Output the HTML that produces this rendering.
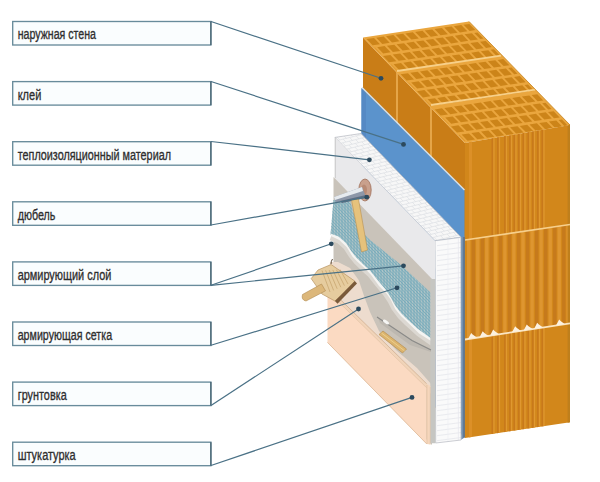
<!DOCTYPE html>
<html><head><meta charset="utf-8"><style>
html,body{margin:0;padding:0;background:#fff;}
svg{display:block;}
</style></head><body>
<svg width="600" height="482" viewBox="0 0 600 482">
<defs>
<clipPath id="cTop"><polygon points="363,37.5 469,21.5 570,125 465,143"/></clipPath>
<clipPath id="cFront"><polygon points="465,143 570,125 570,422.3 465,438"/></clipPath>
<clipPath id="cMesh"><polygon points="333.5,200.0 350.0,201.0 358.0,228.0 370.0,240.0 401.0,265.0 432.0,294.0 432.0,340.0 418.0,330.0 407.0,320.0 400.0,313.0 394.0,305.0 390.0,297.3 385.0,289.8 377.5,281.0 370.0,271.5 364.4,266.5 356.0,258.2 351.0,252.0 345.7,243.7 338.5,237.4 330.5,234.5"/></clipPath>
<clipPath id="cInsT"><polygon points="335,137.4 361,133.5 460.8,237 435,240.7"/></clipPath>
<clipPath id="cInsF"><polygon points="435,240.7 461.2,237 461.2,439.8 435.7,443"/></clipPath>
</defs>
<polygon points="363.0,37.5 465.0,143.0 465.0,438.0 363.0,333.0" fill="#c97d17"/>
<line x1="397" y1="71" x2="397" y2="124" stroke="#eeb35a" stroke-width="1.5"/>
<line x1="431" y1="105" x2="431" y2="159" stroke="#eeb35a" stroke-width="1.5"/>
<polygon points="363.0,37.5 469.0,21.5 570.0,125.0 465.0,143.0" fill="#eaa63e"/>
<g clip-path="url(#cTop)" fill="#cc8419"><polygon points="366.6,39.1 374.0,38.0 380.0,44.2 372.6,45.3"/><polygon points="376.3,37.7 383.7,36.6 389.7,42.8 382.3,43.9"/><polygon points="386.0,36.2 393.4,35.1 399.4,41.3 392.0,42.4"/><polygon points="395.7,34.8 403.1,33.7 409.1,39.9 401.7,41.0"/><polygon points="405.4,33.4 412.8,32.3 418.8,38.5 411.4,39.6"/><polygon points="415.1,31.9 422.5,30.8 428.5,37.0 421.1,38.1"/><polygon points="424.8,30.5 432.2,29.4 438.2,35.6 430.8,36.7"/><polygon points="434.5,29.0 441.9,28.0 447.9,34.2 440.5,35.2"/><polygon points="444.2,27.6 451.6,26.5 457.6,32.7 450.2,33.8"/><polygon points="453.9,26.2 461.3,25.1 467.3,31.3 459.9,32.4"/><polygon points="463.6,24.7 469.3,23.9 475.3,30.1 469.6,30.9"/><polygon points="374.5,47.6 374.9,47.6 380.9,53.8 380.5,53.8"/><polygon points="377.2,47.2 384.6,46.1 390.6,52.3 383.2,53.4"/><polygon points="386.9,45.8 394.3,44.7 400.3,50.9 392.9,52.0"/><polygon points="396.6,44.3 404.0,43.2 410.0,49.5 402.6,50.5"/><polygon points="406.3,42.9 413.7,41.8 419.7,48.0 412.3,49.1"/><polygon points="416.0,41.5 423.4,40.4 429.4,46.6 422.0,47.7"/><polygon points="425.7,40.0 433.1,38.9 439.1,45.1 431.7,46.2"/><polygon points="435.4,38.6 442.8,37.5 448.8,43.7 441.4,44.8"/><polygon points="445.1,37.2 452.5,36.1 458.5,42.3 451.1,43.4"/><polygon points="454.8,35.7 462.2,34.6 468.2,40.8 460.8,41.9"/><polygon points="464.5,34.3 471.9,33.2 477.9,39.4 470.5,40.5"/><polygon points="474.2,32.9 477.5,32.4 483.5,38.6 480.2,39.1"/><polygon points="383.0,56.1 390.4,55.0 396.4,61.2 389.0,62.3"/><polygon points="392.7,54.6 400.1,53.5 406.1,59.7 398.7,60.8"/><polygon points="402.4,53.2 409.8,52.1 415.8,58.3 408.4,59.4"/><polygon points="412.1,51.7 419.5,50.7 425.5,56.9 418.1,57.9"/><polygon points="421.8,50.3 429.2,49.2 435.2,55.4 427.8,56.5"/><polygon points="431.5,48.9 438.9,47.8 444.9,54.0 437.5,55.1"/><polygon points="441.2,47.4 448.6,46.3 454.6,52.5 447.2,53.6"/><polygon points="450.9,46.0 458.3,44.9 464.3,51.1 456.9,52.2"/><polygon points="460.6,44.6 468.0,43.5 474.0,49.7 466.6,50.8"/><polygon points="470.3,43.1 477.7,42.0 483.7,48.2 476.3,49.3"/><polygon points="480.0,41.7 485.7,40.9 491.7,47.1 486.0,47.9"/><polygon points="390.9,64.6 391.3,64.5 397.3,70.7 396.9,70.8"/><polygon points="393.6,64.2 401.0,63.1 407.0,69.3 399.6,70.4"/><polygon points="403.3,62.7 410.7,61.6 416.7,67.8 409.3,68.9"/><polygon points="413.0,61.3 420.4,60.2 426.4,66.4 419.0,67.5"/><polygon points="422.7,59.9 430.1,58.8 436.1,65.0 428.7,66.1"/><polygon points="432.4,58.4 439.8,57.3 445.8,63.5 438.4,64.6"/><polygon points="442.1,57.0 449.5,55.9 455.5,62.1 448.1,63.2"/><polygon points="451.8,55.6 459.2,54.5 465.2,60.7 457.8,61.8"/><polygon points="461.5,54.1 468.9,53.0 474.9,59.2 467.5,60.3"/><polygon points="471.2,52.7 478.6,51.6 484.6,57.8 477.2,58.9"/><polygon points="480.9,51.3 488.3,50.2 494.3,56.4 486.9,57.5"/><polygon points="490.6,49.8 493.9,49.3 499.9,55.5 496.6,56.0"/><polygon points="400.6,74.3 408.0,73.2 414.0,79.4 406.6,80.5"/><polygon points="410.3,72.8 417.7,71.7 423.7,77.9 416.3,79.0"/><polygon points="420.0,71.4 427.4,70.3 433.4,76.5 426.0,77.6"/><polygon points="429.7,69.9 437.1,68.8 443.1,75.1 435.7,76.1"/><polygon points="439.4,68.5 446.8,67.4 452.8,73.6 445.4,74.7"/><polygon points="449.1,67.1 456.5,66.0 462.5,72.2 455.1,73.3"/><polygon points="458.8,65.6 466.2,64.5 472.2,70.7 464.8,71.8"/><polygon points="468.5,64.2 475.9,63.1 481.9,69.3 474.5,70.4"/><polygon points="478.2,62.8 485.6,61.7 491.6,67.9 484.2,69.0"/><polygon points="487.9,61.3 495.3,60.2 501.3,66.4 493.9,67.5"/><polygon points="497.6,59.9 503.3,59.1 509.3,65.3 503.6,66.1"/><polygon points="408.5,82.8 408.9,82.7 414.9,88.9 414.5,89.0"/><polygon points="411.2,82.4 418.6,81.3 424.6,87.5 417.2,88.6"/><polygon points="420.9,80.9 428.3,79.8 434.3,86.0 426.9,87.1"/><polygon points="430.6,79.5 438.0,78.4 444.0,84.6 436.6,85.7"/><polygon points="440.3,78.1 447.7,77.0 453.7,83.2 446.3,84.3"/><polygon points="450.0,76.6 457.4,75.5 463.4,81.7 456.0,82.8"/><polygon points="459.7,75.2 467.1,74.1 473.1,80.3 465.7,81.4"/><polygon points="469.4,73.8 476.8,72.7 482.8,78.9 475.4,80.0"/><polygon points="479.1,72.3 486.5,71.2 492.5,77.4 485.1,78.5"/><polygon points="488.8,70.9 496.2,69.8 502.2,76.0 494.8,77.1"/><polygon points="498.5,69.5 505.9,68.4 511.9,74.6 504.5,75.7"/><polygon points="508.2,68.0 511.5,67.5 517.5,73.7 514.2,74.2"/><polygon points="417.0,91.2 424.4,90.1 430.4,96.3 423.0,97.4"/><polygon points="426.7,89.8 434.1,88.7 440.1,94.9 432.7,96.0"/><polygon points="436.4,88.3 443.8,87.2 449.8,93.4 442.4,94.5"/><polygon points="446.1,86.9 453.5,85.8 459.5,92.0 452.1,93.1"/><polygon points="455.8,85.5 463.2,84.4 469.2,90.6 461.8,91.7"/><polygon points="465.5,84.0 472.9,82.9 478.9,89.1 471.5,90.2"/><polygon points="475.2,82.6 482.6,81.5 488.6,87.7 481.2,88.8"/><polygon points="484.9,81.2 492.3,80.1 498.3,86.3 490.9,87.4"/><polygon points="494.6,79.7 502.0,78.6 508.0,84.8 500.6,85.9"/><polygon points="504.3,78.3 511.7,77.2 517.7,83.4 510.3,84.5"/><polygon points="514.0,76.9 519.7,76.0 525.7,82.2 520.0,83.1"/><polygon points="424.9,99.7 425.3,99.7 431.3,105.9 430.9,105.9"/><polygon points="427.6,99.3 435.0,98.2 441.0,104.4 433.6,105.5"/><polygon points="437.3,97.9 444.7,96.8 450.7,103.0 443.3,104.1"/><polygon points="447.0,96.5 454.4,95.4 460.4,101.6 453.0,102.7"/><polygon points="456.7,95.0 464.1,93.9 470.1,100.1 462.7,101.2"/><polygon points="466.4,93.6 473.8,92.5 479.8,98.7 472.4,99.8"/><polygon points="476.1,92.2 483.5,91.1 489.5,97.3 482.1,98.4"/><polygon points="485.8,90.7 493.2,89.6 499.2,95.8 491.8,96.9"/><polygon points="495.5,89.3 502.9,88.2 508.9,94.4 501.5,95.5"/><polygon points="505.2,87.8 512.6,86.7 518.6,93.0 511.2,94.0"/><polygon points="514.9,86.4 522.3,85.3 528.3,91.5 520.9,92.6"/><polygon points="524.6,85.0 527.9,84.5 533.9,90.7 530.6,91.2"/><polygon points="434.6,109.4 442.0,108.3 448.0,114.5 440.6,115.6"/><polygon points="444.3,108.0 451.7,106.9 457.7,113.1 450.3,114.2"/><polygon points="454.0,106.5 461.4,105.4 467.4,111.6 460.0,112.7"/><polygon points="463.7,105.1 471.1,104.0 477.1,110.2 469.7,111.3"/><polygon points="473.4,103.7 480.8,102.6 486.8,108.8 479.4,109.9"/><polygon points="483.1,102.2 490.5,101.1 496.5,107.3 489.1,108.4"/><polygon points="492.8,100.8 500.2,99.7 506.2,105.9 498.8,107.0"/><polygon points="502.5,99.4 509.9,98.3 515.9,104.5 508.5,105.6"/><polygon points="512.2,97.9 519.6,96.8 525.6,103.0 518.2,104.1"/><polygon points="521.9,96.5 529.3,95.4 535.3,101.6 527.9,102.7"/><polygon points="531.6,95.1 537.3,94.2 543.3,100.4 537.6,101.3"/><polygon points="442.5,117.9 442.9,117.9 448.9,124.1 448.5,124.1"/><polygon points="445.2,117.5 452.6,116.4 458.6,122.6 451.2,123.7"/><polygon points="454.9,116.1 462.3,115.0 468.3,121.2 460.9,122.3"/><polygon points="464.6,114.7 472.0,113.6 478.0,119.8 470.6,120.9"/><polygon points="474.3,113.2 481.7,112.1 487.7,118.3 480.3,119.4"/><polygon points="484.0,111.8 491.4,110.7 497.4,116.9 490.0,118.0"/><polygon points="493.7,110.3 501.1,109.3 507.1,115.5 499.7,116.6"/><polygon points="503.4,108.9 510.8,107.8 516.8,114.0 509.4,115.1"/><polygon points="513.1,107.5 520.5,106.4 526.5,112.6 519.1,113.7"/><polygon points="522.8,106.0 530.2,104.9 536.2,111.2 528.8,112.2"/><polygon points="532.5,104.6 539.9,103.5 545.9,109.7 538.5,110.8"/><polygon points="542.2,103.2 545.5,102.7 551.5,108.9 548.2,109.4"/><polygon points="451.0,126.4 458.4,125.3 464.4,131.5 457.0,132.6"/><polygon points="460.7,124.9 468.1,123.8 474.1,130.0 466.7,131.1"/><polygon points="470.4,123.5 477.8,122.4 483.8,128.6 476.4,129.7"/><polygon points="480.1,122.1 487.5,121.0 493.5,127.2 486.1,128.3"/><polygon points="489.8,120.6 497.2,119.5 503.2,125.7 495.8,126.8"/><polygon points="499.5,119.2 506.9,118.1 512.9,124.3 505.5,125.4"/><polygon points="509.2,117.8 516.6,116.7 522.6,122.9 515.2,124.0"/><polygon points="518.9,116.3 526.3,115.2 532.3,121.4 524.9,122.5"/><polygon points="528.6,114.9 536.0,113.8 542.0,120.0 534.6,121.1"/><polygon points="538.3,113.4 545.7,112.3 551.7,118.6 544.3,119.6"/><polygon points="548.0,112.0 553.7,111.2 559.7,117.4 554.0,118.2"/><polygon points="458.9,134.9 459.3,134.8 465.3,141.0 464.9,141.1"/><polygon points="461.6,134.5 469.0,133.4 475.0,139.6 467.6,140.7"/><polygon points="471.3,133.0 478.7,132.0 484.7,138.2 477.3,139.3"/><polygon points="481.0,131.6 488.4,130.5 494.4,136.7 487.0,137.8"/><polygon points="490.7,130.2 498.1,129.1 504.1,135.3 496.7,136.4"/><polygon points="500.4,128.7 507.8,127.6 513.8,133.9 506.4,134.9"/><polygon points="510.1,127.3 517.5,126.2 523.5,132.4 516.1,133.5"/><polygon points="519.8,125.9 527.2,124.8 533.2,131.0 525.8,132.1"/><polygon points="529.5,124.4 536.9,123.3 542.9,129.5 535.5,130.6"/><polygon points="539.2,123.0 546.6,121.9 552.6,128.1 545.2,129.2"/><polygon points="548.9,121.6 556.3,120.5 562.3,126.7 554.9,127.8"/><polygon points="558.6,120.1 561.9,119.6 567.9,125.8 564.6,126.3"/></g>
<line x1="397" y1="71" x2="501" y2="55.6" stroke="#f7d08a" stroke-width="1.8"/>
<line x1="431" y1="105" x2="535" y2="89.6" stroke="#f7d08a" stroke-width="1.8"/>
<polygon points="465.0,143.0 570.0,125.0 570.0,422.3 465.0,438.0" fill="#d2871b"/>
<clipPath id="cB1"><polygon points="465,143 570,125 570,224.5 465,240"/></clipPath><clipPath id="cB2"><polygon points="465,240 570,224.5 570,323.4 465,339.5"/></clipPath><clipPath id="cB3"><polygon points="465,339.5 570,323.4 570,422.3 465,438"/></clipPath><g clip-path="url(#cB1)"><rect x="491.5" y="120" width="1.8" height="330" fill="#c8791b"/><rect x="493.3" y="120" width="1.3" height="330" fill="#e09830"/><rect x="497" y="120" width="1.8" height="330" fill="#c8791b"/><rect x="498.8" y="120" width="1.3" height="330" fill="#e09830"/><rect x="504" y="120" width="1.8" height="330" fill="#c8791b"/><rect x="505.8" y="120" width="1.3" height="330" fill="#e09830"/><rect x="509" y="120" width="1.8" height="330" fill="#c8791b"/><rect x="510.8" y="120" width="1.3" height="330" fill="#e09830"/><rect x="513.5" y="120" width="1.8" height="330" fill="#c8791b"/><rect x="515.3" y="120" width="1.3" height="330" fill="#e09830"/><rect x="518" y="120" width="1.8" height="330" fill="#c8791b"/><rect x="519.8" y="120" width="1.3" height="330" fill="#e09830"/><rect x="522.5" y="120" width="1.8" height="330" fill="#c8791b"/><rect x="524.3" y="120" width="1.3" height="330" fill="#e09830"/><rect x="527.5" y="120" width="1.8" height="330" fill="#c8791b"/><rect x="529.3" y="120" width="1.3" height="330" fill="#e09830"/><rect x="532" y="120" width="1.8" height="330" fill="#c8791b"/><rect x="533.8" y="120" width="1.3" height="330" fill="#e09830"/><rect x="537" y="120" width="1.8" height="330" fill="#c8791b"/><rect x="538.8" y="120" width="1.3" height="330" fill="#e09830"/><rect x="541.5" y="120" width="1.8" height="330" fill="#c8791b"/><rect x="543.3" y="120" width="1.3" height="330" fill="#e09830"/><rect x="469" y="120" width="3" height="330" fill="#dc9028"/></g><g clip-path="url(#cB3)"><rect x="491.5" y="120" width="1.8" height="330" fill="#c8791b"/><rect x="493.3" y="120" width="1.3" height="330" fill="#e09830"/><rect x="497" y="120" width="1.8" height="330" fill="#c8791b"/><rect x="498.8" y="120" width="1.3" height="330" fill="#e09830"/><rect x="504" y="120" width="1.8" height="330" fill="#c8791b"/><rect x="505.8" y="120" width="1.3" height="330" fill="#e09830"/><rect x="509" y="120" width="1.8" height="330" fill="#c8791b"/><rect x="510.8" y="120" width="1.3" height="330" fill="#e09830"/><rect x="513.5" y="120" width="1.8" height="330" fill="#c8791b"/><rect x="515.3" y="120" width="1.3" height="330" fill="#e09830"/><rect x="518" y="120" width="1.8" height="330" fill="#c8791b"/><rect x="519.8" y="120" width="1.3" height="330" fill="#e09830"/><rect x="522.5" y="120" width="1.8" height="330" fill="#c8791b"/><rect x="524.3" y="120" width="1.3" height="330" fill="#e09830"/><rect x="527.5" y="120" width="1.8" height="330" fill="#c8791b"/><rect x="529.3" y="120" width="1.3" height="330" fill="#e09830"/><rect x="532" y="120" width="1.8" height="330" fill="#c8791b"/><rect x="533.8" y="120" width="1.3" height="330" fill="#e09830"/><rect x="537" y="120" width="1.8" height="330" fill="#c8791b"/><rect x="538.8" y="120" width="1.3" height="330" fill="#e09830"/><rect x="541.5" y="120" width="1.8" height="330" fill="#c8791b"/><rect x="543.3" y="120" width="1.3" height="330" fill="#e09830"/><rect x="469" y="120" width="3" height="330" fill="#dc9028"/></g><g clip-path="url(#cB2)"><rect x="467.0" y="220" width="3.4" height="125" fill="#de9630"/><rect x="471.6" y="220" width="3.4" height="125" fill="#c67a1c"/><rect x="476.1" y="220" width="3.4" height="125" fill="#de9630"/><rect x="480.7" y="220" width="3.4" height="125" fill="#c67a1c"/><rect x="485.1" y="220" width="3.4" height="125" fill="#de9630"/><rect x="489.7" y="220" width="3.4" height="125" fill="#c67a1c"/><rect x="494.1" y="220" width="3.4" height="125" fill="#de9630"/><rect x="498.8" y="220" width="3.4" height="125" fill="#c67a1c"/><rect x="503.2" y="220" width="3.4" height="125" fill="#de9630"/><rect x="507.8" y="220" width="3.4" height="125" fill="#c67a1c"/><rect x="512.2" y="220" width="3.4" height="125" fill="#de9630"/><rect x="516.9" y="220" width="3.4" height="125" fill="#c67a1c"/><rect x="521.3" y="220" width="3.4" height="125" fill="#de9630"/><rect x="525.9" y="220" width="3.4" height="125" fill="#c67a1c"/><rect x="530.4" y="220" width="3.4" height="125" fill="#de9630"/><rect x="535.0" y="220" width="3.4" height="125" fill="#c67a1c"/><rect x="539.4" y="220" width="3.4" height="125" fill="#de9630"/><rect x="544.0" y="220" width="3.4" height="125" fill="#c67a1c"/><rect x="548.5" y="220" width="3.4" height="125" fill="#de9630"/><rect x="553.1" y="220" width="3.4" height="125" fill="#c67a1c"/><rect x="557.5" y="220" width="3.4" height="125" fill="#de9630"/><rect x="562.1" y="220" width="3.4" height="125" fill="#c67a1c"/><rect x="566.5" y="220" width="3.4" height="125" fill="#de9630"/><rect x="571.1" y="220" width="3.4" height="125" fill="#c67a1c"/></g>
<polygon points="567.6,125.4 570,125 570,422.3 567.6,422.7" fill="#bf7f1c"/>
<line x1="469" y1="21.5" x2="570" y2="125" stroke="#c98a2a" stroke-width="0.9"/>
<line x1="465" y1="240" x2="570" y2="224.5" stroke="#f6cf8c" stroke-width="1.6"/>
<line x1="465" y1="339.5" x2="570" y2="323.4" stroke="#fbe6c2" stroke-width="1.8"/>
<polygon points="468.0,339.0 471.2,332.9 472.6,334.4 477.0,337.6" fill="#fcf1e0"/>
<polygon points="479.5,337.3 482.7,331.2 484.1,332.7 488.5,335.9" fill="#fcf1e0"/>
<polygon points="490.0,335.7 493.2,329.6 494.6,331.1 499.0,334.3" fill="#fcf1e0"/>
<polygon points="512.0,332.3 515.2,326.2 516.6,327.7 521.0,330.9" fill="#fcf1e0"/>
<polygon points="523.6,330.5 526.8,324.4 528.2,325.9 532.6,329.1" fill="#fcf1e0"/>
<polygon points="534.0,328.9 537.2,322.8 538.6,324.3 543.0,327.5" fill="#fcf1e0"/>
<polygon points="556.0,325.6 559.2,319.5 560.6,321.0 565.0,324.2" fill="#fcf1e0"/>
<polygon points="361.5,88.0 464.5,190.5 464.5,437.0 361.5,331.0" fill="#5b93cc"/>
<polygon points="361.5,88.0 366.0,92.6 366.0,340.0 361.5,336.0" fill="#5589c4"/>
<line x1="362" y1="87.5" x2="464.5" y2="190" stroke="#d3e2ef" stroke-width="1.4"/>
<polygon points="335.0,137.4 361.0,133.5 460.8,237.0 435.0,240.7" fill="#f7f7f7"/>
<polygon points="435.0,240.7 461.2,237.0 461.2,439.8 435.7,443.0" fill="#fafafa"/>
<polygon points="461.2,237.0 464.6,236.6 464.6,437.5 461.2,439.8" fill="#7290b0"/>
<line x1="464" y1="237" x2="464" y2="437.5" stroke="#4c5e72" stroke-width="0.9"/>
<g clip-path="url(#cInsT)" stroke="#d9dce1" stroke-width="0.6" fill="none"><line x1="335.0" y1="137.4" x2="361.0" y2="131.0"/><line x1="336.9" y1="136.9" x2="339.8" y2="139.9"/><line x1="343.4" y1="135.3" x2="346.3" y2="138.3"/><line x1="349.9" y1="133.7" x2="352.8" y2="136.7"/><line x1="356.4" y1="132.1" x2="359.3" y2="135.1"/><line x1="337.9" y1="140.4" x2="363.9" y2="134.0"/><line x1="343.1" y1="139.1" x2="346.0" y2="142.1"/><line x1="349.6" y1="137.5" x2="352.5" y2="140.5"/><line x1="356.1" y1="135.9" x2="359.0" y2="138.9"/><line x1="362.6" y1="134.3" x2="365.5" y2="137.3"/><line x1="340.7" y1="143.3" x2="366.7" y2="136.9"/><line x1="342.7" y1="142.8" x2="345.6" y2="145.8"/><line x1="349.2" y1="141.2" x2="352.1" y2="144.2"/><line x1="355.7" y1="139.6" x2="358.6" y2="142.6"/><line x1="362.2" y1="138.0" x2="365.1" y2="141.0"/><line x1="343.6" y1="146.3" x2="369.6" y2="139.9"/><line x1="348.8" y1="145.0" x2="351.7" y2="148.0"/><line x1="355.3" y1="143.4" x2="358.2" y2="146.4"/><line x1="361.8" y1="141.8" x2="364.7" y2="144.8"/><line x1="368.3" y1="140.2" x2="371.2" y2="143.2"/><line x1="346.4" y1="149.2" x2="372.4" y2="142.8"/><line x1="348.4" y1="148.7" x2="351.3" y2="151.7"/><line x1="354.9" y1="147.1" x2="357.8" y2="150.1"/><line x1="361.4" y1="145.5" x2="364.3" y2="148.5"/><line x1="367.9" y1="143.9" x2="370.8" y2="146.9"/><line x1="349.3" y1="152.2" x2="375.3" y2="145.8"/><line x1="354.5" y1="150.9" x2="357.4" y2="153.9"/><line x1="361.0" y1="149.3" x2="363.9" y2="152.3"/><line x1="367.5" y1="147.7" x2="370.4" y2="150.7"/><line x1="374.0" y1="146.1" x2="376.9" y2="149.1"/><line x1="352.1" y1="155.1" x2="378.1" y2="148.7"/><line x1="354.1" y1="154.6" x2="357.0" y2="157.6"/><line x1="360.6" y1="153.0" x2="363.5" y2="156.0"/><line x1="367.1" y1="151.4" x2="370.0" y2="154.4"/><line x1="373.6" y1="149.8" x2="376.5" y2="152.8"/><line x1="355.0" y1="158.1" x2="381.0" y2="151.7"/><line x1="360.2" y1="156.8" x2="363.1" y2="159.8"/><line x1="366.7" y1="155.2" x2="369.6" y2="158.2"/><line x1="373.2" y1="153.6" x2="376.1" y2="156.6"/><line x1="379.7" y1="152.0" x2="382.6" y2="155.0"/><line x1="357.9" y1="161.0" x2="383.9" y2="154.6"/><line x1="359.8" y1="160.5" x2="362.7" y2="163.5"/><line x1="366.3" y1="158.9" x2="369.2" y2="161.9"/><line x1="372.8" y1="157.3" x2="375.7" y2="160.3"/><line x1="379.3" y1="155.7" x2="382.2" y2="158.7"/><line x1="360.7" y1="164.0" x2="386.7" y2="157.6"/><line x1="365.9" y1="162.7" x2="368.8" y2="165.7"/><line x1="372.4" y1="161.1" x2="375.3" y2="164.1"/><line x1="378.9" y1="159.5" x2="381.8" y2="162.5"/><line x1="385.4" y1="157.9" x2="388.3" y2="160.9"/><line x1="363.6" y1="166.9" x2="389.6" y2="160.5"/><line x1="365.5" y1="166.4" x2="368.4" y2="169.4"/><line x1="372.0" y1="164.8" x2="374.9" y2="167.8"/><line x1="378.5" y1="163.2" x2="381.4" y2="166.2"/><line x1="385.0" y1="161.6" x2="387.9" y2="164.6"/><line x1="366.4" y1="169.9" x2="392.4" y2="163.5"/><line x1="371.6" y1="168.6" x2="374.5" y2="171.6"/><line x1="378.1" y1="167.0" x2="381.0" y2="170.0"/><line x1="384.6" y1="165.4" x2="387.5" y2="168.4"/><line x1="391.1" y1="163.8" x2="394.0" y2="166.8"/><line x1="369.3" y1="172.8" x2="395.3" y2="166.4"/><line x1="371.2" y1="172.3" x2="374.1" y2="175.3"/><line x1="377.7" y1="170.7" x2="380.6" y2="173.7"/><line x1="384.2" y1="169.1" x2="387.1" y2="172.1"/><line x1="390.7" y1="167.5" x2="393.6" y2="170.5"/><line x1="372.1" y1="175.8" x2="398.1" y2="169.4"/><line x1="377.3" y1="174.5" x2="380.2" y2="177.5"/><line x1="383.8" y1="172.9" x2="386.7" y2="175.9"/><line x1="390.3" y1="171.3" x2="393.2" y2="174.3"/><line x1="396.8" y1="169.7" x2="399.7" y2="172.7"/><line x1="375.0" y1="178.7" x2="401.0" y2="172.3"/><line x1="376.9" y1="178.2" x2="379.8" y2="181.2"/><line x1="383.4" y1="176.6" x2="386.3" y2="179.6"/><line x1="389.9" y1="175.0" x2="392.8" y2="178.0"/><line x1="396.4" y1="173.4" x2="399.3" y2="176.4"/><line x1="377.9" y1="181.7" x2="403.9" y2="175.3"/><line x1="383.1" y1="180.4" x2="386.0" y2="183.4"/><line x1="389.6" y1="178.8" x2="392.5" y2="181.8"/><line x1="396.1" y1="177.2" x2="399.0" y2="180.2"/><line x1="402.6" y1="175.6" x2="405.5" y2="178.6"/><line x1="380.7" y1="184.6" x2="406.7" y2="178.2"/><line x1="382.7" y1="184.1" x2="385.6" y2="187.1"/><line x1="389.2" y1="182.5" x2="392.1" y2="185.5"/><line x1="395.7" y1="180.9" x2="398.6" y2="183.9"/><line x1="402.2" y1="179.3" x2="405.1" y2="182.3"/><line x1="383.6" y1="187.6" x2="409.6" y2="181.2"/><line x1="388.8" y1="186.3" x2="391.7" y2="189.3"/><line x1="395.3" y1="184.7" x2="398.2" y2="187.7"/><line x1="401.8" y1="183.1" x2="404.7" y2="186.1"/><line x1="408.3" y1="181.5" x2="411.2" y2="184.5"/><line x1="386.4" y1="190.5" x2="412.4" y2="184.1"/><line x1="388.4" y1="190.0" x2="391.3" y2="193.0"/><line x1="394.9" y1="188.4" x2="397.8" y2="191.4"/><line x1="401.4" y1="186.8" x2="404.3" y2="189.8"/><line x1="407.9" y1="185.2" x2="410.8" y2="188.2"/><line x1="389.3" y1="193.5" x2="415.3" y2="187.1"/><line x1="394.5" y1="192.2" x2="397.4" y2="195.2"/><line x1="401.0" y1="190.6" x2="403.9" y2="193.6"/><line x1="407.5" y1="189.0" x2="410.4" y2="192.0"/><line x1="414.0" y1="187.4" x2="416.9" y2="190.4"/><line x1="392.1" y1="196.4" x2="418.1" y2="190.0"/><line x1="394.1" y1="195.9" x2="397.0" y2="198.9"/><line x1="400.6" y1="194.3" x2="403.5" y2="197.3"/><line x1="407.1" y1="192.7" x2="410.0" y2="195.7"/><line x1="413.6" y1="191.1" x2="416.5" y2="194.1"/><line x1="395.0" y1="199.4" x2="421.0" y2="193.0"/><line x1="400.2" y1="198.1" x2="403.1" y2="201.1"/><line x1="406.7" y1="196.5" x2="409.6" y2="199.5"/><line x1="413.2" y1="194.9" x2="416.1" y2="197.9"/><line x1="419.7" y1="193.3" x2="422.6" y2="196.3"/><line x1="397.9" y1="202.3" x2="423.9" y2="195.9"/><line x1="399.8" y1="201.9" x2="402.7" y2="204.9"/><line x1="406.3" y1="200.3" x2="409.2" y2="203.3"/><line x1="412.8" y1="198.7" x2="415.7" y2="201.7"/><line x1="419.3" y1="197.1" x2="422.2" y2="200.1"/><line x1="400.7" y1="205.3" x2="426.7" y2="198.9"/><line x1="405.9" y1="204.0" x2="408.8" y2="207.0"/><line x1="412.4" y1="202.4" x2="415.3" y2="205.4"/><line x1="418.9" y1="200.8" x2="421.8" y2="203.8"/><line x1="425.4" y1="199.2" x2="428.3" y2="202.2"/><line x1="403.6" y1="208.2" x2="429.6" y2="201.8"/><line x1="405.5" y1="207.8" x2="408.4" y2="210.8"/><line x1="412.0" y1="206.2" x2="414.9" y2="209.2"/><line x1="418.5" y1="204.6" x2="421.4" y2="207.6"/><line x1="425.0" y1="203.0" x2="427.9" y2="206.0"/><line x1="406.4" y1="211.2" x2="432.4" y2="204.8"/><line x1="411.6" y1="209.9" x2="414.5" y2="212.9"/><line x1="418.1" y1="208.3" x2="421.0" y2="211.3"/><line x1="424.6" y1="206.7" x2="427.5" y2="209.7"/><line x1="431.1" y1="205.1" x2="434.0" y2="208.1"/><line x1="409.3" y1="214.1" x2="435.3" y2="207.7"/><line x1="411.2" y1="213.7" x2="414.1" y2="216.7"/><line x1="417.7" y1="212.1" x2="420.6" y2="215.1"/><line x1="424.2" y1="210.5" x2="427.1" y2="213.5"/><line x1="430.7" y1="208.9" x2="433.6" y2="211.9"/><line x1="412.1" y1="217.1" x2="438.1" y2="210.7"/><line x1="417.3" y1="215.8" x2="420.2" y2="218.8"/><line x1="423.8" y1="214.2" x2="426.7" y2="217.2"/><line x1="430.3" y1="212.6" x2="433.2" y2="215.6"/><line x1="436.8" y1="211.0" x2="439.7" y2="214.0"/><line x1="415.0" y1="220.0" x2="441.0" y2="213.6"/><line x1="416.9" y1="219.6" x2="419.8" y2="222.6"/><line x1="423.4" y1="218.0" x2="426.3" y2="221.0"/><line x1="429.9" y1="216.4" x2="432.8" y2="219.4"/><line x1="436.4" y1="214.8" x2="439.3" y2="217.8"/><line x1="417.9" y1="223.0" x2="443.9" y2="216.6"/><line x1="423.1" y1="221.7" x2="426.0" y2="224.7"/><line x1="429.6" y1="220.1" x2="432.5" y2="223.1"/><line x1="436.1" y1="218.5" x2="439.0" y2="221.5"/><line x1="442.6" y1="216.9" x2="445.5" y2="219.9"/><line x1="420.7" y1="225.9" x2="446.7" y2="219.5"/><line x1="422.7" y1="225.5" x2="425.6" y2="228.5"/><line x1="429.2" y1="223.9" x2="432.1" y2="226.9"/><line x1="435.7" y1="222.3" x2="438.6" y2="225.3"/><line x1="442.2" y1="220.7" x2="445.1" y2="223.7"/><line x1="423.6" y1="228.9" x2="449.6" y2="222.5"/><line x1="428.8" y1="227.6" x2="431.7" y2="230.6"/><line x1="435.3" y1="226.0" x2="438.2" y2="229.0"/><line x1="441.8" y1="224.4" x2="444.7" y2="227.4"/><line x1="448.3" y1="222.8" x2="451.2" y2="225.8"/><line x1="426.4" y1="231.8" x2="452.4" y2="225.4"/><line x1="428.4" y1="231.4" x2="431.3" y2="234.4"/><line x1="434.9" y1="229.8" x2="437.8" y2="232.8"/><line x1="441.4" y1="228.2" x2="444.3" y2="231.2"/><line x1="447.9" y1="226.6" x2="450.8" y2="229.6"/><line x1="429.3" y1="234.8" x2="455.3" y2="228.4"/><line x1="434.5" y1="233.5" x2="437.4" y2="236.5"/><line x1="441.0" y1="231.9" x2="443.9" y2="234.9"/><line x1="447.5" y1="230.3" x2="450.4" y2="233.3"/><line x1="454.0" y1="228.7" x2="456.9" y2="231.7"/><line x1="432.1" y1="237.7" x2="458.1" y2="231.3"/><line x1="434.1" y1="237.3" x2="437.0" y2="240.3"/><line x1="440.6" y1="235.7" x2="443.5" y2="238.7"/><line x1="447.1" y1="234.1" x2="450.0" y2="237.1"/><line x1="453.6" y1="232.5" x2="456.5" y2="235.5"/><line x1="435.0" y1="240.7" x2="461.0" y2="234.3"/><line x1="440.2" y1="239.4" x2="443.1" y2="242.4"/><line x1="446.7" y1="237.8" x2="449.6" y2="240.8"/><line x1="453.2" y1="236.2" x2="456.1" y2="239.2"/><line x1="459.7" y1="234.6" x2="462.6" y2="237.6"/></g>
<g clip-path="url(#cInsF)" stroke="#e2e4ea" stroke-width="0.7" fill="none"><line x1="437" y1="240.7" x2="461" y2="237.5"/><line x1="437" y1="245.7" x2="461" y2="242.5"/><line x1="437" y1="250.7" x2="461" y2="247.5"/><line x1="437" y1="255.7" x2="461" y2="252.5"/><line x1="437" y1="260.7" x2="461" y2="257.5"/><line x1="437" y1="265.7" x2="461" y2="262.5"/><line x1="437" y1="270.7" x2="461" y2="267.5"/><line x1="437" y1="275.7" x2="461" y2="272.5"/><line x1="437" y1="280.7" x2="461" y2="277.5"/><line x1="437" y1="285.7" x2="461" y2="282.5"/><line x1="437" y1="290.7" x2="461" y2="287.5"/><line x1="437" y1="295.7" x2="461" y2="292.5"/><line x1="437" y1="300.7" x2="461" y2="297.5"/><line x1="437" y1="305.7" x2="461" y2="302.5"/><line x1="437" y1="310.7" x2="461" y2="307.5"/><line x1="437" y1="315.7" x2="461" y2="312.5"/><line x1="437" y1="320.7" x2="461" y2="317.5"/><line x1="437" y1="325.7" x2="461" y2="322.5"/><line x1="437" y1="330.7" x2="461" y2="327.5"/><line x1="437" y1="335.7" x2="461" y2="332.5"/><line x1="437" y1="340.7" x2="461" y2="337.5"/><line x1="437" y1="345.7" x2="461" y2="342.5"/><line x1="437" y1="350.7" x2="461" y2="347.5"/><line x1="437" y1="355.7" x2="461" y2="352.5"/><line x1="437" y1="360.7" x2="461" y2="357.5"/><line x1="437" y1="365.7" x2="461" y2="362.5"/><line x1="437" y1="370.7" x2="461" y2="367.5"/><line x1="437" y1="375.7" x2="461" y2="372.5"/><line x1="437" y1="380.7" x2="461" y2="377.5"/><line x1="437" y1="385.7" x2="461" y2="382.5"/><line x1="437" y1="390.7" x2="461" y2="387.5"/><line x1="437" y1="395.7" x2="461" y2="392.5"/><line x1="437" y1="400.7" x2="461" y2="397.5"/><line x1="437" y1="405.7" x2="461" y2="402.5"/><line x1="437" y1="410.7" x2="461" y2="407.5"/><line x1="437" y1="415.7" x2="461" y2="412.5"/><line x1="437" y1="420.7" x2="461" y2="417.5"/><line x1="437" y1="425.7" x2="461" y2="422.5"/><line x1="437" y1="430.7" x2="461" y2="427.5"/><line x1="437" y1="435.7" x2="461" y2="432.5"/><line x1="437" y1="440.7" x2="461" y2="437.5"/><line x1="437" y1="445.7" x2="461" y2="442.5"/><line x1="448" y1="236" x2="448" y2="445" stroke="#eceef2"/><line x1="458.4" y1="236" x2="458.4" y2="445" stroke="#e6e8ee"/></g>
<polygon points="335.0,137.4 361.0,133.5 460.8,237.0 461.0,440.0 435.7,443.0 435.0,240.7" fill="none" stroke="#b4b8c0" stroke-width="0.7"/>
<line x1="435" y1="240.7" x2="460.6" y2="237.3" stroke="#b4b8c0" stroke-width="0.7"/>
<polygon points="335.0,137.4 435.0,240.7 435.0,443.0 335.0,340.0" fill="#e9e9eb"/>
<line x1="335.2" y1="137.4" x2="335.2" y2="178" stroke="#bdbdbd" stroke-width="0.8"/>
<polygon points="333.5,177.0 432.0,279.0 432.0,445.0 333.5,345.0" fill="#c9c3ba"/>
<g clip-path="url(#cMesh)"><rect x="325" y="185" width="115" height="160" fill="#adc4c7"/><g stroke="#6ca6b8" stroke-width="0.75"><line x1="330.0" y1="185" x2="330.0" y2="345"/><line x1="333.0" y1="185" x2="333.0" y2="345"/><line x1="336.0" y1="185" x2="336.0" y2="345"/><line x1="339.0" y1="185" x2="339.0" y2="345"/><line x1="342.0" y1="185" x2="342.0" y2="345"/><line x1="345.0" y1="185" x2="345.0" y2="345"/><line x1="348.0" y1="185" x2="348.0" y2="345"/><line x1="351.0" y1="185" x2="351.0" y2="345"/><line x1="354.0" y1="185" x2="354.0" y2="345"/><line x1="357.0" y1="185" x2="357.0" y2="345"/><line x1="360.0" y1="185" x2="360.0" y2="345"/><line x1="363.0" y1="185" x2="363.0" y2="345"/><line x1="366.0" y1="185" x2="366.0" y2="345"/><line x1="369.0" y1="185" x2="369.0" y2="345"/><line x1="372.0" y1="185" x2="372.0" y2="345"/><line x1="375.0" y1="185" x2="375.0" y2="345"/><line x1="378.0" y1="185" x2="378.0" y2="345"/><line x1="381.0" y1="185" x2="381.0" y2="345"/><line x1="384.0" y1="185" x2="384.0" y2="345"/><line x1="387.0" y1="185" x2="387.0" y2="345"/><line x1="390.0" y1="185" x2="390.0" y2="345"/><line x1="393.0" y1="185" x2="393.0" y2="345"/><line x1="396.0" y1="185" x2="396.0" y2="345"/><line x1="399.0" y1="185" x2="399.0" y2="345"/><line x1="402.0" y1="185" x2="402.0" y2="345"/><line x1="405.0" y1="185" x2="405.0" y2="345"/><line x1="408.0" y1="185" x2="408.0" y2="345"/><line x1="411.0" y1="185" x2="411.0" y2="345"/><line x1="414.0" y1="185" x2="414.0" y2="345"/><line x1="417.0" y1="185" x2="417.0" y2="345"/><line x1="420.0" y1="185" x2="420.0" y2="345"/><line x1="423.0" y1="185" x2="423.0" y2="345"/><line x1="426.0" y1="185" x2="426.0" y2="345"/><line x1="429.0" y1="185" x2="429.0" y2="345"/><line x1="432.0" y1="185" x2="432.0" y2="345"/><line x1="435.0" y1="185" x2="435.0" y2="345"/><line x1="438.0" y1="185" x2="438.0" y2="345"/><line x1="441.0" y1="185" x2="441.0" y2="345"/><line x1="444.0" y1="185" x2="444.0" y2="345"/><line x1="447.0" y1="185" x2="447.0" y2="345"/><line x1="325" y1="140.0" x2="440" y2="258.0"/><line x1="325" y1="143.2" x2="440" y2="261.2"/><line x1="325" y1="146.4" x2="440" y2="264.4"/><line x1="325" y1="149.6" x2="440" y2="267.6"/><line x1="325" y1="152.8" x2="440" y2="270.8"/><line x1="325" y1="156.0" x2="440" y2="274.0"/><line x1="325" y1="159.2" x2="440" y2="277.2"/><line x1="325" y1="162.4" x2="440" y2="280.4"/><line x1="325" y1="165.6" x2="440" y2="283.6"/><line x1="325" y1="168.8" x2="440" y2="286.8"/><line x1="325" y1="172.0" x2="440" y2="290.0"/><line x1="325" y1="175.2" x2="440" y2="293.2"/><line x1="325" y1="178.4" x2="440" y2="296.4"/><line x1="325" y1="181.6" x2="440" y2="299.6"/><line x1="325" y1="184.8" x2="440" y2="302.8"/><line x1="325" y1="188.0" x2="440" y2="306.0"/><line x1="325" y1="191.2" x2="440" y2="309.2"/><line x1="325" y1="194.4" x2="440" y2="312.4"/><line x1="325" y1="197.6" x2="440" y2="315.6"/><line x1="325" y1="200.8" x2="440" y2="318.8"/><line x1="325" y1="204.0" x2="440" y2="322.0"/><line x1="325" y1="207.2" x2="440" y2="325.2"/><line x1="325" y1="210.4" x2="440" y2="328.4"/><line x1="325" y1="213.6" x2="440" y2="331.6"/><line x1="325" y1="216.8" x2="440" y2="334.8"/><line x1="325" y1="220.0" x2="440" y2="338.0"/><line x1="325" y1="223.2" x2="440" y2="341.2"/><line x1="325" y1="226.4" x2="440" y2="344.4"/><line x1="325" y1="229.6" x2="440" y2="347.6"/><line x1="325" y1="232.8" x2="440" y2="350.8"/><line x1="325" y1="236.0" x2="440" y2="354.0"/><line x1="325" y1="239.2" x2="440" y2="357.2"/><line x1="325" y1="242.4" x2="440" y2="360.4"/><line x1="325" y1="245.6" x2="440" y2="363.6"/><line x1="325" y1="248.8" x2="440" y2="366.8"/><line x1="325" y1="252.0" x2="440" y2="370.0"/><line x1="325" y1="255.2" x2="440" y2="373.2"/><line x1="325" y1="258.4" x2="440" y2="376.4"/><line x1="325" y1="261.6" x2="440" y2="379.6"/><line x1="325" y1="264.8" x2="440" y2="382.8"/><line x1="325" y1="268.0" x2="440" y2="386.0"/><line x1="325" y1="271.2" x2="440" y2="389.2"/><line x1="325" y1="274.4" x2="440" y2="392.4"/><line x1="325" y1="277.6" x2="440" y2="395.6"/><line x1="325" y1="280.8" x2="440" y2="398.8"/><line x1="325" y1="284.0" x2="440" y2="402.0"/><line x1="325" y1="287.2" x2="440" y2="405.2"/><line x1="325" y1="290.4" x2="440" y2="408.4"/><line x1="325" y1="293.6" x2="440" y2="411.6"/><line x1="325" y1="296.8" x2="440" y2="414.8"/><line x1="325" y1="300.0" x2="440" y2="418.0"/><line x1="325" y1="303.2" x2="440" y2="421.2"/><line x1="325" y1="306.4" x2="440" y2="424.4"/><line x1="325" y1="309.6" x2="440" y2="427.6"/><line x1="325" y1="312.8" x2="440" y2="430.8"/><line x1="325" y1="316.0" x2="440" y2="434.0"/><line x1="325" y1="319.2" x2="440" y2="437.2"/><line x1="325" y1="322.4" x2="440" y2="440.4"/><line x1="325" y1="325.6" x2="440" y2="443.6"/><line x1="325" y1="328.8" x2="440" y2="446.8"/><line x1="325" y1="332.0" x2="440" y2="450.0"/><line x1="325" y1="335.2" x2="440" y2="453.2"/><line x1="325" y1="338.4" x2="440" y2="456.4"/><line x1="325" y1="341.6" x2="440" y2="459.6"/><line x1="325" y1="344.8" x2="440" y2="462.8"/><line x1="325" y1="348.0" x2="440" y2="466.0"/><line x1="325" y1="351.2" x2="440" y2="469.2"/><line x1="325" y1="354.4" x2="440" y2="472.4"/><line x1="325" y1="357.6" x2="440" y2="475.6"/><line x1="325" y1="360.8" x2="440" y2="478.8"/></g></g>
<polygon points="330.0,262.0 338.0,262.0 350.0,268.0 358.7,280.0 363.9,295.6 370.0,312.0 379.0,331.0 396.0,350.0 417.0,368.0 432.0,385.0 432.0,395.0 327.5,290.0" fill="#eddcce"/>
<polyline points="330.5,238.0 338.5,240.9 345.7,247.2 351.0,255.5 356.0,261.7 364.4,270.0 370.0,275.0 377.5,284.5 385.0,293.3 390.0,300.8 394.0,308.5 400.0,316.5 407.0,323.5 418.0,333.5 432.0,343.5" fill="none" stroke="#dcd8d2" stroke-width="5" stroke-linejoin="round"/>
<polygon points="330.5,233.5 338.5,236.4 345.7,242.7 351.0,251.0 356.0,257.2 364.4,265.5 370.0,270.5 377.5,280.0 385.0,288.8 390.0,296.3 394.0,304.0 400.0,312.0 407.0,319.0 418.0,329.0 432.0,339.0 432.6,342.0 419.1,333.5 407.8,322.5 400.9,316.0 395.2,309.0 390.6,299.3 385.9,292.8 379.0,286.0 371.1,275.0 365.0,268.5 356.9,261.2 352.4,256.5 346.8,247.2 339.2,239.9 330.9,236.0" fill="#f4f4f2"/>
<polygon points="430.3,279.0 435.4,279.0 435.4,443.3 430.3,443.3" fill="#c6c6c2"/>
<polygon points="327.5,287.0 426.7,383.8 426.7,443.9 327.5,342.4" fill="#fbdac2"/>
<polygon points="327.5,287.0 426.7,383.8 426.7,387.8 327.5,291.0" fill="#f1d4b9"/>
<polygon points="426.7,383.8 430.3,386.0 430.3,444.6 426.7,443.9" fill="#f5d6bc"/>
<line x1="327.5" y1="287" x2="426.7" y2="383.8" stroke="#c4a486" stroke-width="0.6"/>
<line x1="327.5" y1="291" x2="426.7" y2="387.8" stroke="#d8b898" stroke-width="0.5"/>
<line x1="327.5" y1="342.4" x2="426.7" y2="443.9" stroke="#dcb896" stroke-width="0.8"/>
<line x1="426.9" y1="385" x2="426.9" y2="444" stroke="#dcb896" stroke-width="0.6"/>
<line x1="430.2" y1="387" x2="430.2" y2="444.5" stroke="#d8bca0" stroke-width="0.5"/>
<polygon points="378,318 412,340 431,349 431,352 410,345 380,323" fill="#bdb8b0"/>
<polyline points="377,317 412,340.5 431,350" fill="none" stroke="#8a8a88" stroke-width="1.1"/>
<ellipse cx="386" cy="322" rx="3.5" ry="1.6" fill="#f6f6f4" transform="rotate(35 386 322)"/>
<polygon points="379,334.5 383,331 406.5,349 402.5,353" fill="#dcb46e" stroke="#b08848" stroke-width="0.6"/>
<line x1="381.5" y1="333" x2="404.5" y2="350.8" stroke="#ecd08c" stroke-width="1"/>
<ellipse cx="365" cy="190" rx="6.2" ry="11" fill="#c9a08c" stroke="#a0705a" stroke-width="0.8"/>
<ellipse cx="364" cy="190" rx="3" ry="5.5" fill="#b88a74"/>
<polygon points="334,197 362,187 366,197 336,203" fill="#8d97a8"/>
<polygon points="334,197 362,187 363,191 335,200" fill="#e6eaee"/>
<polygon points="340,201 366,195 366,198 342,203" fill="#5d6c82"/>
<polygon points="351.5,200 358.5,199 367.5,250 361.5,252" fill="#e6c27c" stroke="#b89050" stroke-width="0.6"/>
<polygon points="311.2,278.6 318.0,270.0 331.1,264.5 354.8,281.1 346.0,292.0 334.9,301.0 322.0,294.0" fill="#e6cc9e" stroke="#b89462" stroke-width="0.7"/>
<g stroke="#c4a26c" stroke-width="0.7"><line x1="322.0" y1="270.5" x2="330.0" y2="292.0"/><line x1="325.6" y1="270.3" x2="333.6" y2="290.4"/><line x1="329.2" y1="270.1" x2="337.2" y2="288.8"/><line x1="332.8" y1="269.9" x2="340.8" y2="287.2"/><line x1="336.4" y1="269.7" x2="344.4" y2="285.6"/><line x1="340.0" y1="269.5" x2="348.0" y2="284.0"/></g>
<polygon points="334.9,301.0 354.8,281.1 357.0,283.5 337.5,303.8" fill="#7a5a3a"/>
<path d="M302.5,294.5 L321.5,284 L325.5,290.8 L306,301 Q301,300 302.5,294.5 Z" fill="#dcb77a" stroke="#b08a50" stroke-width="0.6"/>
<path d="M331,264 q0,-3 1.5,-5" fill="none" stroke="#5a4a3a" stroke-width="1"/>
<rect x="12.7" y="21.50" width="198.2" height="23.5" fill="#fafdfe" stroke="#688b9b" stroke-width="1.35"/><line x1="210.9" y1="21.50" x2="210.9" y2="45.00" stroke="#3e5a68" stroke-width="1.1"/>
<text x="17.7" y="39.40" textLength="78.3" lengthAdjust="spacingAndGlyphs" font-family="Liberation Sans" font-size="15.5" fill="#2e2e2e" stroke="#2e2e2e" stroke-width="0.35">наружная стена</text>
<rect x="12.7" y="81.60" width="198.2" height="23.5" fill="#fafdfe" stroke="#688b9b" stroke-width="1.35"/><line x1="210.9" y1="81.60" x2="210.9" y2="105.10" stroke="#3e5a68" stroke-width="1.1"/>
<text x="17.7" y="99.50" textLength="23.6" lengthAdjust="spacingAndGlyphs" font-family="Liberation Sans" font-size="15.5" fill="#2e2e2e" stroke="#2e2e2e" stroke-width="0.35">клей</text>
<rect x="12.7" y="141.70" width="198.2" height="23.5" fill="#fafdfe" stroke="#688b9b" stroke-width="1.35"/><line x1="210.9" y1="141.70" x2="210.9" y2="165.20" stroke="#3e5a68" stroke-width="1.1"/>
<text x="17.7" y="159.60" textLength="153.3" lengthAdjust="spacingAndGlyphs" font-family="Liberation Sans" font-size="15.5" fill="#2e2e2e" stroke="#2e2e2e" stroke-width="0.35">теплоизоляционный материал</text>
<rect x="12.7" y="201.80" width="198.2" height="23.5" fill="#fafdfe" stroke="#688b9b" stroke-width="1.35"/><line x1="210.9" y1="201.80" x2="210.9" y2="225.30" stroke="#3e5a68" stroke-width="1.1"/>
<text x="17.7" y="219.70" textLength="37.6" lengthAdjust="spacingAndGlyphs" font-family="Liberation Sans" font-size="15.5" fill="#2e2e2e" stroke="#2e2e2e" stroke-width="0.35">дюбель</text>
<rect x="12.7" y="261.90" width="198.2" height="23.5" fill="#fafdfe" stroke="#688b9b" stroke-width="1.35"/><line x1="210.9" y1="261.90" x2="210.9" y2="285.40" stroke="#3e5a68" stroke-width="1.1"/>
<text x="17.7" y="279.80" textLength="93.6" lengthAdjust="spacingAndGlyphs" font-family="Liberation Sans" font-size="15.5" fill="#2e2e2e" stroke="#2e2e2e" stroke-width="0.35">армирующий слой</text>
<rect x="12.7" y="322.00" width="198.2" height="23.5" fill="#fafdfe" stroke="#688b9b" stroke-width="1.35"/><line x1="210.9" y1="322.00" x2="210.9" y2="345.50" stroke="#3e5a68" stroke-width="1.1"/>
<text x="17.7" y="339.90" textLength="94.4" lengthAdjust="spacingAndGlyphs" font-family="Liberation Sans" font-size="15.5" fill="#2e2e2e" stroke="#2e2e2e" stroke-width="0.35">армирующая сетка</text>
<rect x="12.7" y="382.10" width="198.2" height="23.5" fill="#fafdfe" stroke="#688b9b" stroke-width="1.35"/><line x1="210.9" y1="382.10" x2="210.9" y2="405.60" stroke="#3e5a68" stroke-width="1.1"/>
<text x="17.7" y="400.00" textLength="49.0" lengthAdjust="spacingAndGlyphs" font-family="Liberation Sans" font-size="15.5" fill="#2e2e2e" stroke="#2e2e2e" stroke-width="0.35">грунтовка</text>
<rect x="12.7" y="442.20" width="198.2" height="23.5" fill="#fafdfe" stroke="#688b9b" stroke-width="1.35"/><line x1="210.9" y1="442.20" x2="210.9" y2="465.70" stroke="#3e5a68" stroke-width="1.1"/>
<text x="17.7" y="460.10" textLength="58.0" lengthAdjust="spacingAndGlyphs" font-family="Liberation Sans" font-size="15.5" fill="#2e2e2e" stroke="#2e2e2e" stroke-width="0.35">штукатурка</text>
<line x1="211" y1="21.5" x2="381" y2="78.3" stroke="#4a7186" stroke-width="1.2"/>
<circle cx="381" cy="78.3" r="2.4" fill="#2c4a5e"/>
<line x1="211" y1="81.5" x2="403.5" y2="144.4" stroke="#4a7186" stroke-width="1.2"/>
<circle cx="403.5" cy="144.4" r="2.4" fill="#2c4a5e"/>
<line x1="211" y1="141.5" x2="369.4" y2="159.8" stroke="#4a7186" stroke-width="1.2"/>
<circle cx="369.4" cy="159.8" r="2.4" fill="#2c4a5e"/>
<line x1="211" y1="225" x2="366.8" y2="197.2" stroke="#4a7186" stroke-width="1.2"/>
<circle cx="366.8" cy="197.2" r="2.4" fill="#2c4a5e"/>
<line x1="211" y1="285.3" x2="331.3" y2="243.8" stroke="#4a7186" stroke-width="1.2"/>
<circle cx="331.3" cy="243.8" r="2.4" fill="#2c4a5e"/>
<line x1="211" y1="285.3" x2="403.5" y2="265.8" stroke="#4a7186" stroke-width="1.2"/>
<circle cx="403.5" cy="265.8" r="2.4" fill="#2c4a5e"/>
<line x1="211" y1="345.3" x2="397" y2="287.8" stroke="#4a7186" stroke-width="1.2"/>
<circle cx="397" cy="287.8" r="2.4" fill="#2c4a5e"/>
<line x1="211" y1="405.5" x2="358.5" y2="309" stroke="#4a7186" stroke-width="1.2"/>
<circle cx="358.5" cy="309" r="2.4" fill="#2c4a5e"/>
<line x1="211" y1="465.5" x2="412" y2="397.4" stroke="#4a7186" stroke-width="1.2"/>
<circle cx="412" cy="397.4" r="2.4" fill="#2c4a5e"/>
</svg></body></html>
